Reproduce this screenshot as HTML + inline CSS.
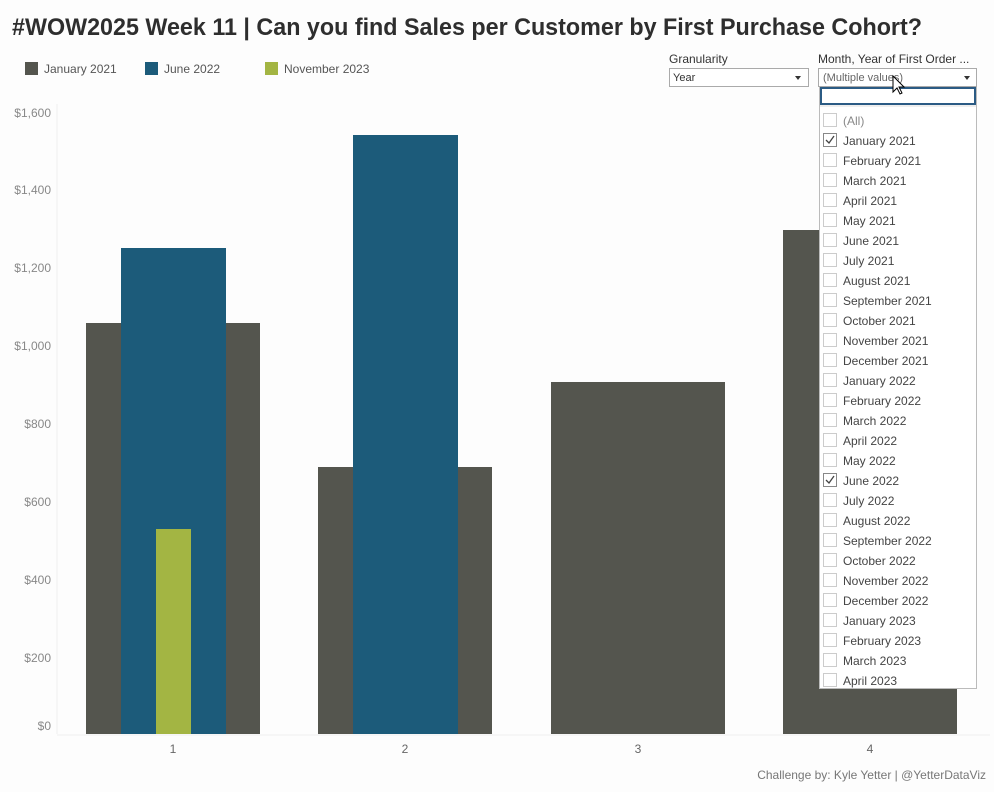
<!DOCTYPE html>
<html><head><meta charset="utf-8"><style>
body{margin:0;background:#fff;}
svg{display:block;font-family:"Liberation Sans",sans-serif;}
</style></head><body>
<svg width="994" height="792" viewBox="0 0 994 792">
<rect width="994" height="792" fill="#fdfdfd"/>
<text x="12" y="35" font-size="24" font-weight="bold" fill="#2e2e2e" textLength="910" lengthAdjust="spacingAndGlyphs">#WOW2025 Week 11 | Can you find Sales per Customer by First Purchase Cohort?</text>
<rect x="25" y="62" width="13" height="13" fill="#54554e"/>
<text x="44" y="73" font-size="12" fill="#555">January 2021</text>
<rect x="145" y="62" width="13" height="13" fill="#1c5b7a"/>
<text x="164" y="73" font-size="12" fill="#555">June 2022</text>
<rect x="265" y="62" width="13" height="13" fill="#a3b543"/>
<text x="284" y="73" font-size="12" fill="#555">November 2023</text>
<g font-size="12" fill="#888" text-anchor="end">
<text x="51" y="117">$1,600</text><text x="51" y="194">$1,400</text><text x="51" y="272">$1,200</text>
<text x="51" y="350">$1,000</text><text x="51" y="428">$800</text><text x="51" y="506">$600</text>
<text x="51" y="584">$400</text><text x="51" y="662">$200</text><text x="51" y="730">$0</text>
</g>
<line x1="57" y1="104" x2="57" y2="734" stroke="#eee"/>
<line x1="57" y1="735" x2="990" y2="735" stroke="#eee"/>
<rect x="86" y="323" width="174" height="411" fill="#54554e"/>
<rect x="121" y="248" width="105" height="486" fill="#1c5b7a"/>
<rect x="156" y="529" width="35" height="205" fill="#a3b543"/>
<rect x="318" y="467" width="174" height="267" fill="#54554e"/>
<rect x="353" y="135" width="105" height="599" fill="#1c5b7a"/>
<rect x="551" y="382" width="174" height="352" fill="#54554e"/>
<rect x="783" y="230" width="174" height="504" fill="#54554e"/>
<g font-size="12" fill="#666" text-anchor="middle">
<text x="173" y="753">1</text><text x="405" y="753">2</text><text x="638" y="753">3</text><text x="870" y="753">4</text>
</g>
<text x="986" y="779" font-size="12" fill="#777" text-anchor="end">Challenge by: Kyle Yetter | @YetterDataViz</text>
<text x="669" y="63" font-size="12" fill="#333">Granularity</text>
<rect x="669.5" y="68.5" width="139" height="18" fill="#fff" stroke="#aaa"/>
<text x="673" y="81" font-size="11" fill="#333">Year</text>
<path d="M795 76h6l-3 4z" fill="#333"/>
<text x="818" y="63" font-size="12" fill="#333">Month, Year of First Order ...</text>
<rect x="818.5" y="68.5" width="158" height="18" fill="#fff" stroke="#aaa"/>
<text x="823" y="81" font-size="11" fill="#666">(Multiple values)</text>
<path d="M964 76h6l-3 4z" fill="#333"/>
<rect x="819.5" y="87.5" width="157" height="601" fill="#fff" stroke="#bbb"/>
<rect x="821" y="88" width="154" height="16" fill="#fff" stroke="#2b5b84" stroke-width="2"/>
<line x1="820" y1="106" x2="976" y2="106" stroke="#ddd"/>
<g font-size="12" fill="#444" id="items">
<text x="843" y="125" fill="#888">(All)</text>
<text x="843" y="145">January 2021</text><text x="843" y="165">February 2021</text><text x="843" y="185">March 2021</text>
<text x="843" y="205">April 2021</text><text x="843" y="225">May 2021</text><text x="843" y="245">June 2021</text>
<text x="843" y="265">July 2021</text><text x="843" y="285">August 2021</text><text x="843" y="305">September 2021</text>
<text x="843" y="325">October 2021</text><text x="843" y="345">November 2021</text><text x="843" y="365">December 2021</text>
<text x="843" y="385">January 2022</text><text x="843" y="405">February 2022</text><text x="843" y="425">March 2022</text>
<text x="843" y="445">April 2022</text><text x="843" y="465">May 2022</text><text x="843" y="485">June 2022</text>
<text x="843" y="505">July 2022</text><text x="843" y="525">August 2022</text><text x="843" y="545">September 2022</text>
<text x="843" y="565">October 2022</text><text x="843" y="585">November 2022</text><text x="843" y="605">December 2022</text>
<text x="843" y="625">January 2023</text><text x="843" y="645">February 2023</text><text x="843" y="665">March 2023</text>
<text x="843" y="685">April 2023</text>
</g>
<g fill="#fff" stroke="#ccc">
<rect x="823.5" y="113.5" width="13" height="13"/><rect x="823.5" y="133.5" width="13" height="13" stroke="#888"/><rect x="823.5" y="153.5" width="13" height="13"/><rect x="823.5" y="173.5" width="13" height="13"/>
<rect x="823.5" y="193.5" width="13" height="13"/><rect x="823.5" y="213.5" width="13" height="13"/><rect x="823.5" y="233.5" width="13" height="13"/><rect x="823.5" y="253.5" width="13" height="13"/>
<rect x="823.5" y="273.5" width="13" height="13"/><rect x="823.5" y="293.5" width="13" height="13"/><rect x="823.5" y="313.5" width="13" height="13"/><rect x="823.5" y="333.5" width="13" height="13"/>
<rect x="823.5" y="353.5" width="13" height="13"/><rect x="823.5" y="373.5" width="13" height="13"/><rect x="823.5" y="393.5" width="13" height="13"/><rect x="823.5" y="413.5" width="13" height="13"/>
<rect x="823.5" y="433.5" width="13" height="13"/><rect x="823.5" y="453.5" width="13" height="13"/><rect x="823.5" y="473.5" width="13" height="13" stroke="#888"/><rect x="823.5" y="493.5" width="13" height="13"/>
<rect x="823.5" y="513.5" width="13" height="13"/><rect x="823.5" y="533.5" width="13" height="13"/><rect x="823.5" y="553.5" width="13" height="13"/><rect x="823.5" y="573.5" width="13" height="13"/>
<rect x="823.5" y="593.5" width="13" height="13"/><rect x="823.5" y="613.5" width="13" height="13"/><rect x="823.5" y="633.5" width="13" height="13"/><rect x="823.5" y="653.5" width="13" height="13"/>
<rect x="823.5" y="673.5" width="13" height="13"/>
</g>
<path d="M826 140l3 3 5-7M826 480l3 3 5-7" fill="none" stroke="#444" stroke-width="1.3"/>
<path d="M893 76v16l4-4 3 6 2-1-3-6h5z" fill="#fff" stroke="#000"/>
</svg>
</body></html>
